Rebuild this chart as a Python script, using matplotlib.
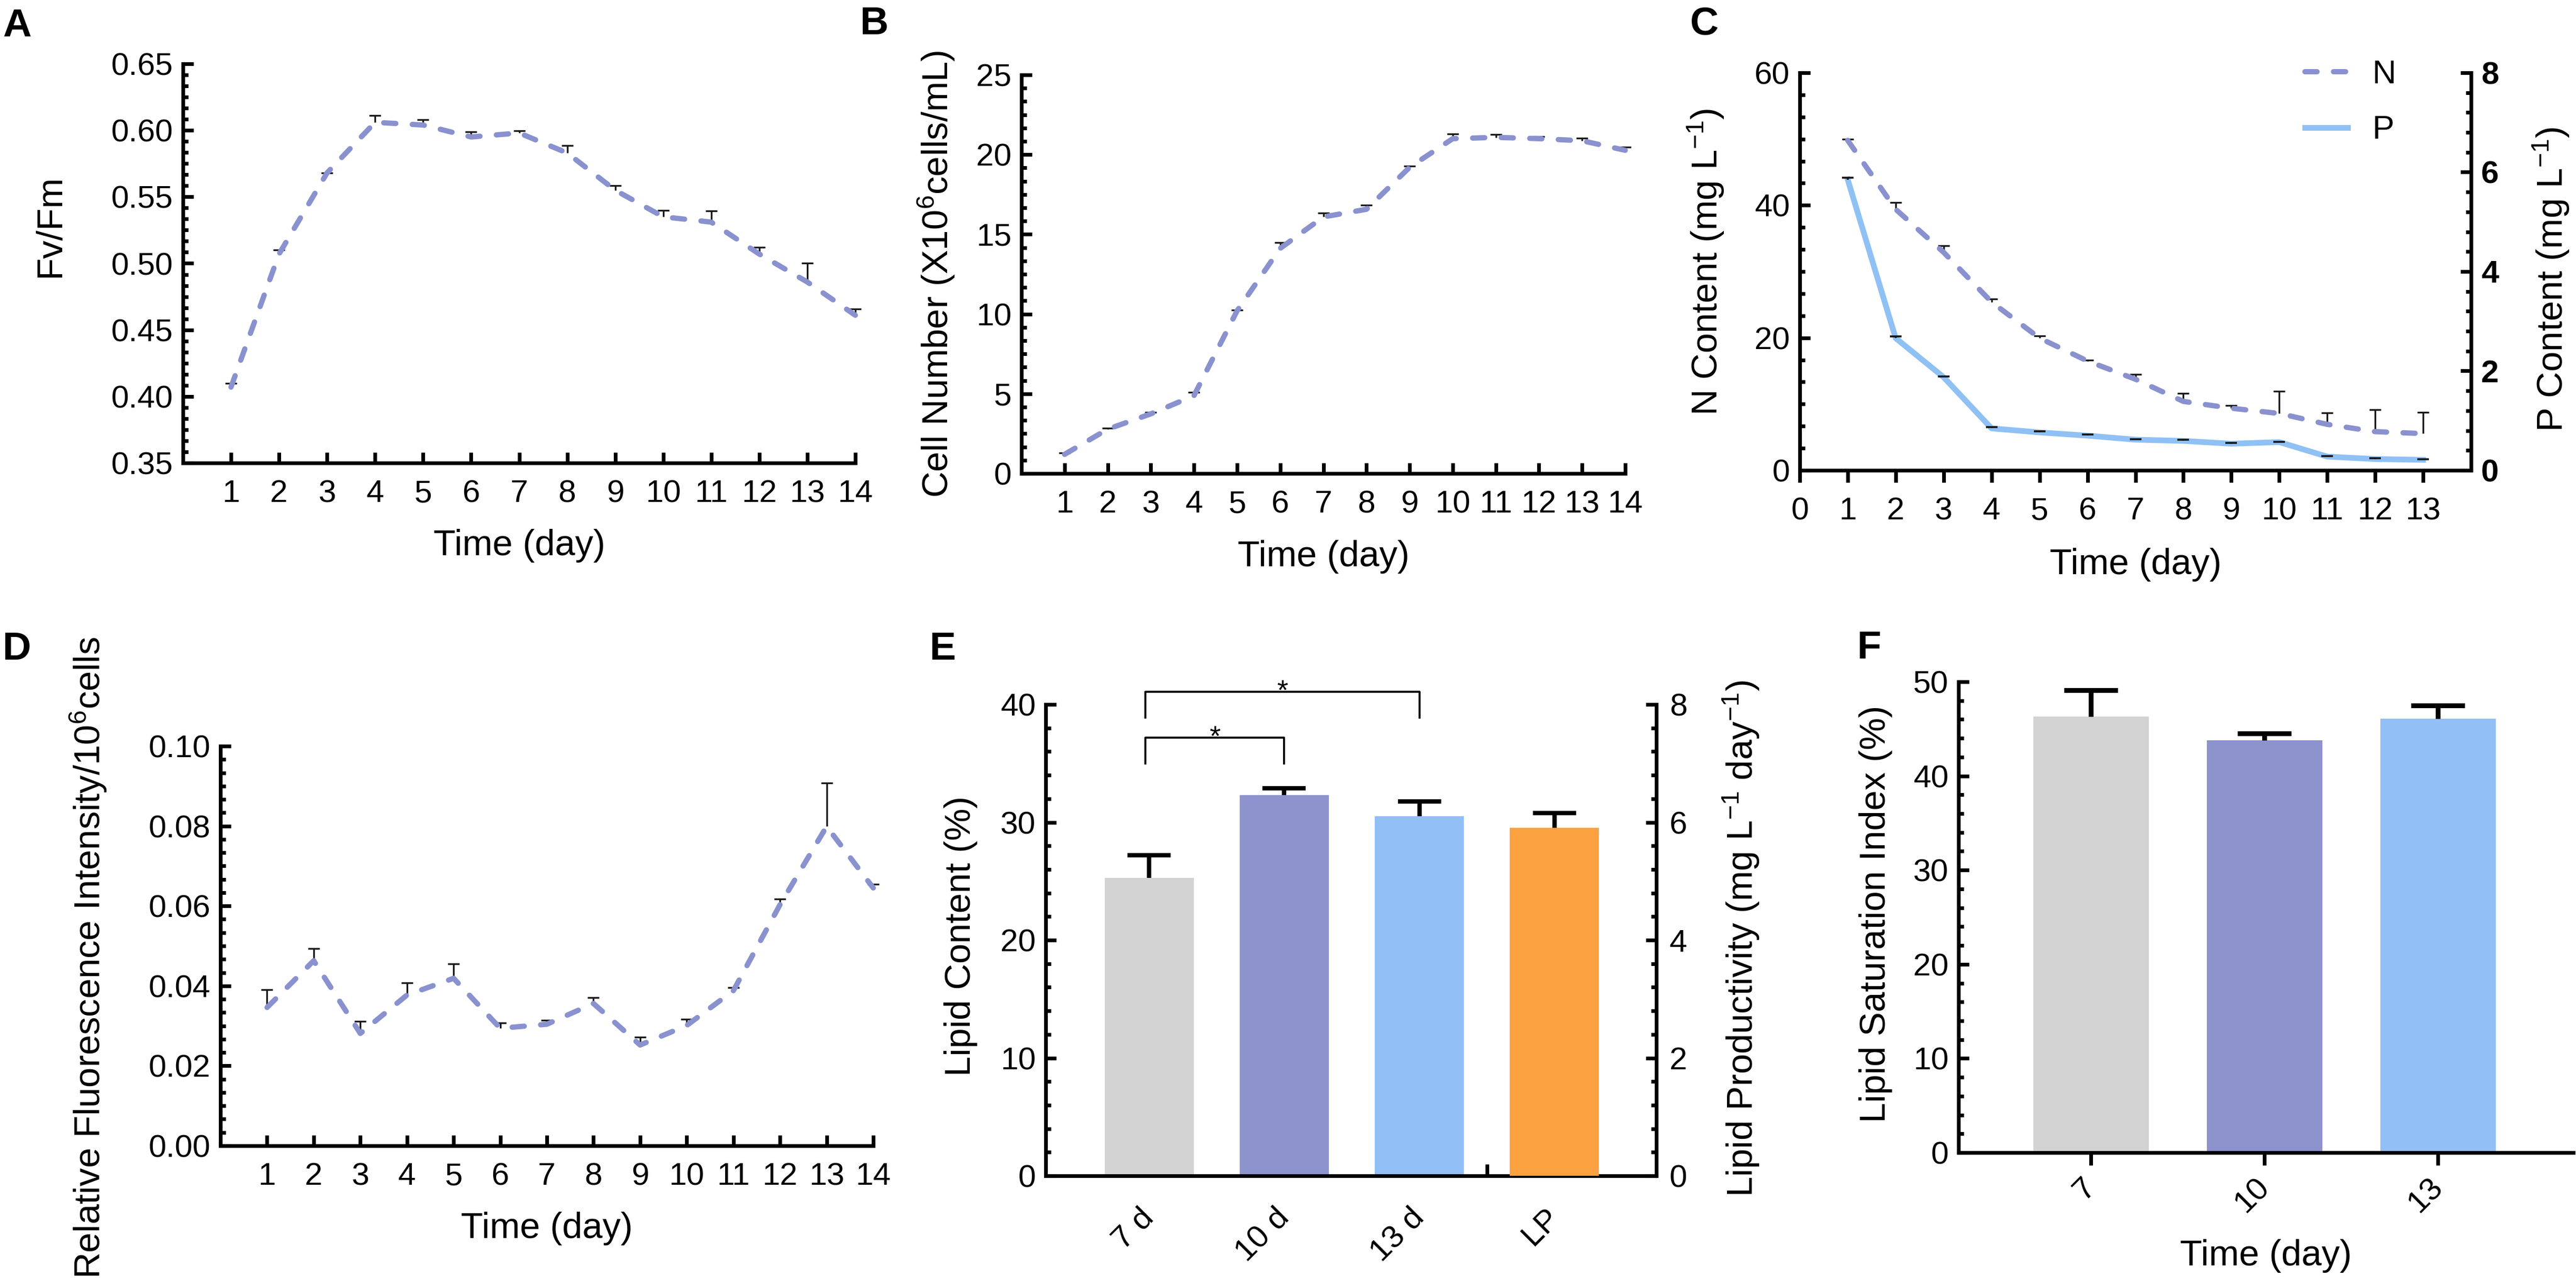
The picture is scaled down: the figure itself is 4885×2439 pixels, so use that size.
import matplotlib
matplotlib.use('Agg')
import matplotlib.pyplot as plt
from matplotlib.ticker import AutoMinorLocator, FormatStrFormatter
import numpy as np

plt.rcParams['font.family'] = ['Liberation Sans', 'DejaVu Sans']
plt.rcParams['mathtext.fontset'] = 'custom'
plt.rcParams['mathtext.rm'] = 'Liberation Sans'
plt.rcParams['mathtext.it'] = 'Liberation Sans:italic'
plt.rcParams['mathtext.bf'] = 'Liberation Sans:bold'
plt.rcParams['lines.scale_dashes'] = False

# ---------------- data ----------------
days14 = list(range(1, 15))
fvfm = [0.407, 0.507, 0.568, 0.606, 0.604, 0.595, 0.598, 0.583, 0.555, 0.535, 0.531, 0.507, 0.486, 0.461]
fvfm_err = [0.003, 0.003, 0.000, 0.005, 0.004, 0.004, 0.0015, 0.0055, 0.0036, 0.005, 0.0085, 0.005, 0.0143, 0.0047]

cell_num = [1.2, 2.78, 3.74, 4.88, 10.2, 14.12, 16.09, 16.57, 19.2, 21.0, 21.08, 21.0, 20.87, 20.27]
cell_err = [0.08, 0.05, 0.08, 0.2, 0.05, 0.38, 0.25, 0.25, 0.08, 0.3, 0.17, 0.13, 0.15, 0.2]

days13 = list(range(1, 14))
n_content = [49.8, 39.4, 32.9, 25.4, 19.96, 16.5, 13.75, 10.4, 9.37, 8.58, 6.94, 5.84, 5.54]
n_err = [0.2, 1.0, 1.0, 0.5, 0.35, 0.15, 0.7, 1.2, 0.4, 3.35, 1.7, 3.35, 3.2]
p_content = [5.85, 2.66, 1.874, 0.844, 0.763, 0.698, 0.617, 0.592, 0.535, 0.568, 0.276, 0.227, 0.211]
p_err = [0.04, 0.04, 0.01, 0.03, 0.02, 0.02, 0.01, 0.02, 0.02, 0.01, 0.01, 0.02, 0.01]

fluor = [0.0346, 0.0463, 0.0281, 0.0377, 0.0419, 0.0294, 0.0304, 0.0356, 0.0252, 0.0301, 0.0388, 0.0603, 0.0799, 0.0645]
fluor_err = [0.0044, 0.003, 0.003, 0.003, 0.0036, 0.0013, 0.001, 0.0015, 0.002, 0.0015, 0.0008, 0.0014, 0.0109, 0.001]

lipid_groups = ['7 d', '10 d', '13 d']
lipid_content = [25.3, 32.3, 30.5]
lipid_content_err = [1.9, 0.6, 1.25]
lp_label = 'LP'
lipid_productivity = 5.91
lipid_productivity_err = 0.25

sat_days = ['7', '10', '13']
sat_index = [46.3, 43.8, 46.1]
sat_err = [2.8, 0.7, 1.4]

# ---------------- style ----------------
PURPLE = '#8991CF'
LBLUE = '#8FC1F5'
GRAY = '#D3D3D3'
BAR_PURPLE = '#8C93CD'
BAR_BLUE = '#93BFF7'
ORANGE = '#FCA13F'
ECOL = '#1a1a1a'
TFS = 14.5
LFS = 16.5
SPW = 1.7
W, H = 4885, 2439

fig = plt.figure(figsize=(W / 300, H / 300), dpi=300)


def add_axes(l, t, r, b):
    return fig.add_axes([l / W, 1 - b / H, (r - l) / W, (b - t) / H])


def style(ax, spines=('left', 'bottom')):
    for s in ['top', 'right', 'left', 'bottom']:
        ax.spines[s].set_visible(s in spines)
        ax.spines[s].set_linewidth(SPW)
    ax.tick_params(which='major', direction='in', length=4.8, width=SPW,
                   labelsize=TFS, pad=4.5)
    ax.tick_params(which='minor', direction='in', length=2.4, width=SPW)


def set_labels(ax, xlabel, xy, ylabel, yxy):
    if xlabel is not None:
        ax.set_xlabel(xlabel, fontsize=LFS)
        ax.xaxis.label.set_va('center')
        ax.xaxis.set_label_coords(*xy)
    ax.set_ylabel(ylabel, fontsize=LFS)
    ax.yaxis.label.set_va('center')
    ax.yaxis.label.set_ha('center')
    ax.yaxis.set_label_coords(*yxy)


def up_errorbar(ax, x, y, err, color, lw, capsize, zorder):
    """Upper-only error bars: stem from mean to mean+err and a single top cap."""
    x = np.asarray(x, dtype=float)
    y = np.asarray(y, dtype=float)
    top = y + np.asarray(err, dtype=float)
    ax.vlines(x, y, top, colors=color, lw=lw, zorder=zorder, clip_on=False)
    ax.plot(x, top, ls='none', marker='_', markersize=2 * capsize,
            markeredgewidth=lw, color=color, zorder=zorder, clip_on=False)


def line_panel(ax, x, y, err, color, lw=2.4, capsize=2.65):
    up_errorbar(ax, x, y, err, ECOL, 0.8, capsize, 2)
    ln, = ax.plot(x, y, color=color, lw=lw, zorder=3, clip_on=False,
                  dash_capstyle='round', solid_capstyle='round')
    ln.set_dashes((5.5, 7.5))
    return ln


# ---------------- A ----------------
axA = add_axes(347, 121, 1622, 878)
style(axA)
line_panel(axA, days14, fvfm, fvfm_err, PURPLE)
axA.set_xlim(0, 14)
axA.set_ylim(0.35, 0.65)
axA.set_xticks(days14)
axA.set_yticks([0.35, 0.40, 0.45, 0.50, 0.55, 0.60, 0.65])
axA.yaxis.set_major_formatter(FormatStrFormatter('%.2f'))
axA.yaxis.set_minor_locator(AutoMinorLocator(6))
axA.tick_params(axis='x', pad=7.5)
set_labels(axA, 'Time (day)', (0.5, -0.207), 'Fv/Fm', (-0.198, 0.594))

# ---------------- B ----------------
axB = add_axes(1937, 142, 3082, 898)
style(axB)
line_panel(axB, days14, cell_num, cell_err, PURPLE)
axB.set_xlim(0, 14)
axB.set_ylim(0, 25)
axB.set_xticks(days14)
axB.set_yticks([0, 5, 10, 15, 20, 25])
axB.yaxis.set_minor_locator(AutoMinorLocator(6))
axB.tick_params(axis='x', pad=7.5)
set_labels(axB, 'Time (day)', (0.5, -0.209),
           r'Cell Number (X10$^{6}$cells/mL)', (-0.1406, 0.5))

# ---------------- C ----------------
axC = add_axes(3413, 138, 4686, 892)
style(axC, spines=('left', 'bottom'))
axC2 = axC.twinx()
style(axC2, spines=('right',))
lnP, = axC2.plot(days13, p_content, color=LBLUE, lw=2.6, zorder=2,
                 solid_joinstyle='round')
up_errorbar(axC2, days13, p_content, p_err, ECOL, 0.9, 2.65, 4)
axC.set_zorder(axC2.get_zorder() + 1)
axC.patch.set_visible(False)
lnN = line_panel(axC, days13, n_content, n_err, PURPLE)
axC.set_xlim(0, 14)
axC.set_ylim(0, 60)
axC2.set_ylim(0, 8)
axC.set_xticks(list(range(0, 14)))
axC.set_yticks([0, 20, 40, 60])
axC.yaxis.set_minor_locator(AutoMinorLocator(6))
p_ticks = [0, 2, 4, 6, 8]
axC2.set_yticks(p_ticks)
axC2.set_yticklabels([str(v) for v in p_ticks], fontweight='bold')
axC2.yaxis.set_minor_locator(AutoMinorLocator(5))
axC.tick_params(axis='x', direction='out', length=5.5, pad=6.5)
set_labels(axC, 'Time (day)', (0.5, -0.237),
           r'N Content (mg L$^{-1}$)', (-0.14, 0.524))
axC2.set_ylabel(r'P Content (mg L$^{-1}$)', fontsize=LFS)
axC2.yaxis.label.set_va('center')
axC2.yaxis.label.set_ha('center')
axC2.yaxis.set_label_coords(1.119, 0.48)
axC.legend([lnN, lnP], ['N', 'P'], loc='upper left',
           bbox_to_anchor=(0.7526, 1.035), frameon=False, fontsize=15,
           handlelength=1.3, handletextpad=0.75, labelspacing=0.75,
           borderpad=0, borderaxespad=0)

# ---------------- D ----------------
axD = add_axes(418, 1415, 1656, 2173)
style(axD)
line_panel(axD, days14, fluor, fluor_err, PURPLE)
axD.set_xlim(0, 14)
axD.set_ylim(0, 0.10)
axD.set_xticks(days14)
axD.set_yticks([0.00, 0.02, 0.04, 0.06, 0.08, 0.10])
axD.yaxis.set_major_formatter(FormatStrFormatter('%.2f'))
axD.yaxis.set_minor_locator(AutoMinorLocator(6))
axD.tick_params(axis='x', pad=7.5)
set_labels(axD, 'Time (day)', (0.5, -0.207),
           r'Relative Fluorescence Intensity/10$^{6}$cells', (-0.202, 0.471))

# ---------------- E ----------------
axE = add_axes(1983, 1336, 3141, 2230)
style(axE, spines=('left', 'bottom'))
axE2 = axE.twinx()
style(axE2, spines=('right',))
xE = np.arange(len(lipid_groups))
axE.bar(xE, lipid_content, width=0.66, color=[GRAY, BAR_PURPLE, BAR_BLUE], zorder=2)
up_errorbar(axE, xE, lipid_content, lipid_content_err, 'black', 2.0, 9.8, 3)
x_lp = len(lipid_groups)
axE2.bar([x_lp], [lipid_productivity], width=0.66, color=ORANGE, zorder=2)
up_errorbar(axE2, [x_lp], [lipid_productivity], [lipid_productivity_err],
            'black', 2.0, 9.8, 3)
axE.set_xlim(-0.766, 3.754)
axE.set_ylim(0, 40)
axE2.set_ylim(0, 8)
axE.set_yticks([0, 10, 20, 30, 40])
axE.yaxis.set_minor_locator(AutoMinorLocator(5))
axE2.set_yticks([0, 2, 4, 6, 8])
axE2.yaxis.set_minor_locator(AutoMinorLocator(5))
axE2.tick_params(axis='y', pad=6)
axE.set_xticks(list(xE) + [x_lp])
axE.set_xticklabels(lipid_groups + [lp_label], rotation=45, ha='right',
                    va='center', rotation_mode='anchor')
axE.tick_params(axis='x', which='major', length=0, pad=17)
axE.set_xticks([2.5], minor=True)
axE.tick_params(axis='x', which='minor', direction='in', length=5.3, width=SPW)
set_labels(axE, None, None, 'Lipid Content (%)', (-0.139, 0.509))
axE2.set_ylabel(r'Lipid Productivity (mg L$^{-1}$ day$^{-1}$)', fontsize=LFS)
axE2.yaxis.label.set_va('center')
axE2.yaxis.label.set_ha('center')
axE2.yaxis.set_label_coords(1.139, 0.503)
brackets = [(0, 1, 35.0, 37.2), (0, 2, 38.9, 41.06)]
for x0, x1, ylow, ytop in brackets:
    axE.plot([x0 - 0.03, x0 - 0.03, x1, x1], [ylow, ytop, ytop, ylow], color='black',
             lw=0.9, clip_on=False, zorder=5)
    axE.text((x0 - 0.03 + x1) / 2, ytop, '*', ha='center', va='center',
             fontsize=13, clip_on=False)

# ---------------- F ----------------
axF = add_axes(3714, 1293, 4880, 2186)
style(axF)
xF = np.arange(len(sat_days))
axF.bar(xF, sat_index, width=0.665, color=[GRAY, BAR_PURPLE, BAR_BLUE], zorder=2)
up_errorbar(axF, xF, sat_index, sat_err, 'black', 2.2, 12.2, 3)
axF.set_xlim(-0.764, 2.78)
axF.set_ylim(0, 50)
axF.set_yticks([0, 10, 20, 30, 40, 50])
axF.yaxis.set_minor_locator(AutoMinorLocator(5))
axF.set_xticks(xF)
axF.set_xticklabels(sat_days, rotation=45, ha='right', va='center',
                    rotation_mode='anchor')
axF.tick_params(axis='x', which='major', direction='out', length=5.8, pad=8)
set_labels(axF, 'Time (day)', (0.5, -0.219), 'Lipid Saturation Index (%)',
           (-0.1346, 0.507))

# ---------------- panel letters ----------------
for letter, lx, by in [('A', 5, 69), ('B', 1631, 65), ('C', 3205, 65),
                       ('D', 5, 1251), ('E', 1763, 1251), ('F', 3522, 1249)]:
    fig.text(lx / W, 1 - by / H, letter, fontsize=18, fontweight='bold',
             ha='left', va='baseline')

fig.savefig('out.png', dpi=300)
